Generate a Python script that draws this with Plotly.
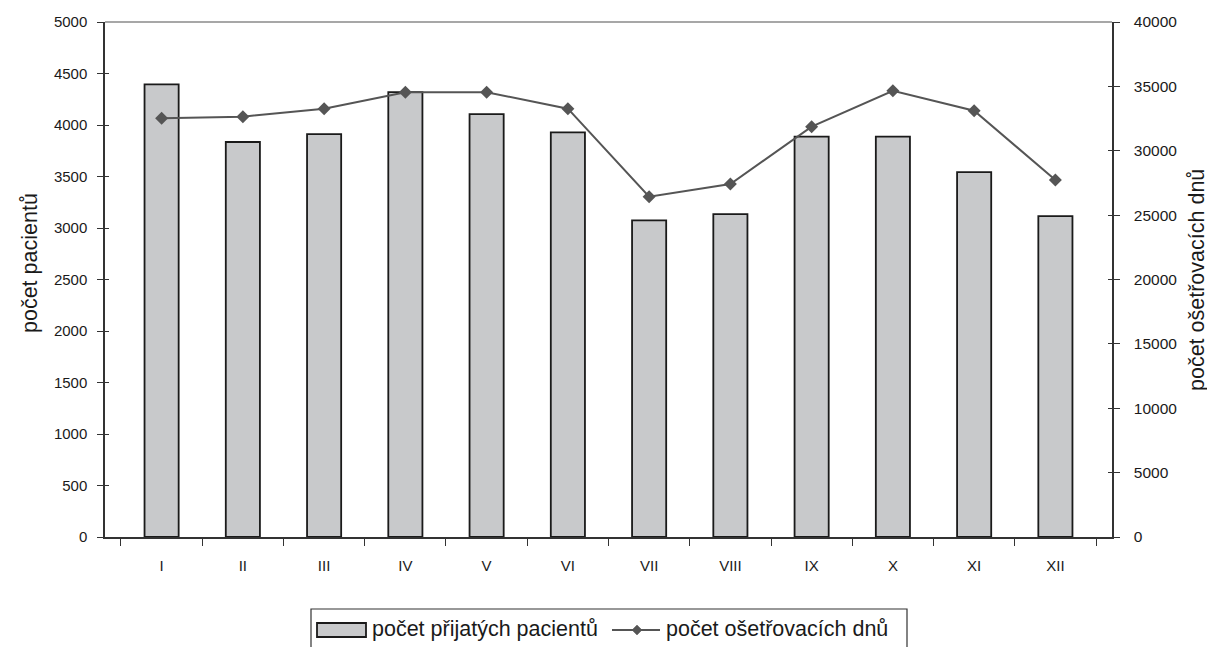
import plotly.graph_objects as go

months = ["I", "II", "III", "IV", "V", "VI", "VII", "VIII", "IX", "X", "XI", "XII"]
patients = [4395, 3835, 3912, 4320, 4105, 3928, 3075, 3135, 3888, 3888, 3542, 3115]
days = [32520, 32650, 33270, 34540, 34540, 33270, 26430, 27420, 31870, 34660, 33110, 27730]

left_ticks = [0, 500, 1000, 1500, 2000, 2500, 3000, 3500, 4000, 4500, 5000]
right_ticks = [0, 5000, 10000, 15000, 20000, 25000, 30000, 35000, 40000]

bar_name = "počet přijatých pacientů"
line_name = "počet ošetřovacích dnů"
left_title = "počet pacientů"
right_title = "počet ošetřovacích dnů"

font = "Liberation Sans, Arial, sans-serif"
ink = "#1a1a1a"
bar_fill = "#c8c9cb"
line_col = "#555555"

# page offset (default body margin) and target plot-area geometry in screen pixels
OFF = 8
L, R, T, B = 105, 1112, 22, 537
W, H = 1215 - OFF, 647 - OFF

def px(x):
    return (x - L) / (R - L)

def py(y):
    return (B - y) / (B - T)

fig = go.Figure()
fig.add_trace(go.Bar(
    x=months, y=patients, name=bar_name,
    marker=dict(color=bar_fill, line=dict(color=ink, width=1.8)),
    yaxis="y", hoverinfo="x+y",
))
fig.add_trace(go.Scatter(
    x=months, y=days, name=line_name,
    mode="lines+markers",
    line=dict(color=line_col, width=2),
    marker=dict(symbol="diamond", size=10, color=line_col),
    yaxis="y2",
))
# invisible helpers so the inner tick axes render
fig.add_trace(go.Scatter(x=months, y=patients, mode="lines", line=dict(width=0),
                         yaxis="y3", hoverinfo="skip", showlegend=False))
fig.add_trace(go.Scatter(x=months, y=days, mode="lines", line=dict(width=0),
                         yaxis="y4", hoverinfo="skip", showlegend=False))

axis_common = dict(showgrid=False, zeroline=False, tickcolor="#333", tickwidth=1.2)

fig.update_layout(
    width=W, height=H,
    margin=dict(l=L - OFF, r=W - (R - OFF), t=T - OFF, b=H - (B - OFF)),
    paper_bgcolor="white", plot_bgcolor="white",
    font=dict(family=font, size=15, color=ink),
    bargap=0.58,
    showlegend=False,
    xaxis=dict(
        showline=True, linecolor="#333", linewidth=1.5,
        ticks="outside", ticklen=7, tickson="boundaries",
        ticklabelstandoff=14, tickfont=dict(size=15, color=ink), automargin=False,
        **axis_common,
    ),
    yaxis=dict(
        range=[0, 5000], tickvals=left_ticks,
        showline=True, linecolor="#333", linewidth=1.5,
        ticks="outside", ticklen=6, ticklabelstandoff=7,
        tickfont=dict(size=15, color=ink), automargin=False,
        **axis_common,
    ),
    yaxis2=dict(
        range=[0, 40000], tickvals=right_ticks, tickformat="d",
        overlaying="y", side="right",
        showline=True, linecolor="#333", linewidth=1.5,
        ticks="outside", ticklen=6, ticklabelstandoff=11,
        tickfont=dict(size=15.5, color=ink), automargin=False,
        **axis_common,
    ),
    yaxis3=dict(
        range=[0, 5000], tickvals=left_ticks, overlaying="y", side="left",
        showline=False, ticks="inside", ticklen=4, showticklabels=False,
        automargin=False, **axis_common,
    ),
    yaxis4=dict(
        range=[0, 40000], tickvals=right_ticks, overlaying="y", side="right",
        showline=False, ticks="inside", ticklen=4, showticklabels=False,
        automargin=False, **axis_common,
    ),
)

shapes = [
    # top frame line
    dict(type="line", xref="paper", yref="paper", x0=0, x1=1, y0=1, y1=1,
         line=dict(color="#8a8a8a", width=1.5)),
    # legend box
    dict(type="rect", xref="paper", yref="paper",
         x0=px(311), x1=px(907), y0=py(609), y1=py(652),
         line=dict(color="#333", width=1.2), fillcolor="white"),
    # bar legend symbol
    dict(type="rect", xref="paper", yref="paper",
         x0=px(317), x1=px(366), y0=py(623), y1=py(637),
         line=dict(color=ink, width=1.8), fillcolor=bar_fill),
    # line legend symbol
    dict(type="line", xref="paper", yref="paper",
         x0=px(612), x1=px(660), y0=py(630), y1=py(630),
         line=dict(color=line_col, width=2)),
]
cx, cy, r = 637, 630, 5
shapes.append(dict(
    type="path", xref="paper", yref="paper",
    path=f"M {px(cx - r)} {py(cy)} L {px(cx)} {py(cy - r)} L {px(cx + r)} {py(cy)} L {px(cx)} {py(cy + r)} Z",
    fillcolor=line_col, line=dict(color=line_col, width=0.5),
))

annotations = [
    dict(text=bar_name, xref="paper", yref="paper", x=px(370), y=py(629),
         xanchor="left", yanchor="middle", showarrow=False,
         font=dict(size=21.5, family=font, color=ink)),
    dict(text=line_name, xref="paper", yref="paper", x=px(664), y=py(629),
         xanchor="left", yanchor="middle", showarrow=False,
         font=dict(size=21.5, family=font, color=ink)),
    dict(text=left_title, xref="paper", yref="paper", x=px(30), y=py(263),
         xanchor="center", yanchor="middle", textangle=-90, showarrow=False,
         font=dict(size=21.5, family=font, color=ink)),
    dict(text=right_title, xref="paper", yref="paper", x=px(1197), y=py(280),
         xanchor="center", yanchor="middle", textangle=-90, showarrow=False,
         font=dict(size=21.5, family=font, color=ink)),
]

fig.update_layout(shapes=shapes, annotations=annotations)

fig.write_html("out.html")
